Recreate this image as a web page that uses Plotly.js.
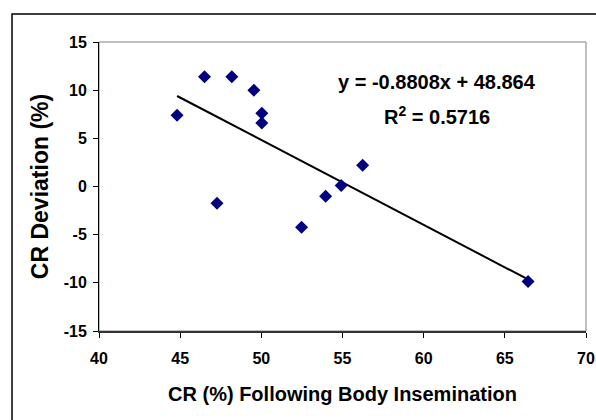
<!DOCTYPE html>
<html>
<head>
<meta charset="utf-8">
<script src="https://cdn.plot.ly/plotly-3.0.1.min.js"></script>
<style>
html,body{margin:0;padding:0;background:#fff;}
#chart{width:596px;height:420px;}
</style>
</head>
<body>
<div id="chart"></div>
<script>
var crBody = [44.81, 46.50, 48.18, 49.54, 50.03, 50.03, 47.27, 52.48, 53.96, 54.92, 56.24, 66.43];
var crDeviation = [7.39, 11.39, 11.39, 10.0, 7.6, 6.6, -1.73, -4.24, -1.0, 0.1, 2.2, -9.85];
var slope = -0.8808;
var intercept = 48.864;
var xTicks = [40, 45, 50, 55, 60, 65, 70];
var yTicks = [-15, -10, -5, 0, 5, 10, 15];

var xMin = Math.min.apply(null, crBody);
var xMax = Math.max.apply(null, crBody);
var trendX = [xMin, xMax];
var trendY = trendX.map(function(v){ return slope * v + intercept; });

var fam = 'Liberation Sans, Arial, sans-serif';

var data = [
  {
    x: trendX, y: trendY, type: 'scatter', mode: 'lines',
    line: {color: '#000', width: 2}, hoverinfo: 'skip', showlegend: false
  },
  {
    x: crBody, y: crDeviation, type: 'scatter', mode: 'markers',
    marker: {symbol: 'diamond', size: 10, color: '#000080', line: {width: 0}},
    showlegend: false
  }
];

function boldTicks(arr){ return arr.map(function(v){ return '<b>' + v + '</b>'; }); }

var layout = {
  width: 596, height: 420,
  margin: {l: 99, r: 10, t: 42, b: 89},
  paper_bgcolor: '#fff', plot_bgcolor: '#fff',
  font: {family: fam, color: '#000'},
  xaxis: {
    range: [40, 70], tickmode: 'array', tickvals: xTicks, ticktext: boldTicks(xTicks),
    showgrid: false, zeroline: false, showline: true, linecolor: '#333', linewidth: 1.5,
    ticks: 'outside', ticklen: 5, tickcolor: '#000', tickwidth: 1, ticklabelstandoff: 7,
    tickfont: {family: fam, size: 16, color: '#000', weight: 700},
    title: {text: '<b>CR (%) Following Body Insemination</b>', font: {family: fam, size: 20, color: '#000'}, standoff: 21}
  },
  yaxis: {
    range: [-15, 15], tickmode: 'array', tickvals: yTicks, ticktext: boldTicks(yTicks),
    showgrid: false, zeroline: false, showline: true, linecolor: '#000', linewidth: 1,
    ticks: 'outside', ticklen: 5, tickcolor: '#000', tickwidth: 1, ticklabelstandoff: 3,
    tickfont: {family: fam, size: 16, color: '#000', weight: 700},
    title: {text: '<b>CR Deviation (%)</b>', font: {family: fam, size: 23, color: '#000'}, standoff: 8}
  },
  shapes: [
    {type: 'rect', xref: 'paper', yref: 'paper', x0: 0, x1: 1, y0: 0, y1: 1,
     line: {color: '#808080', width: 1}, layer: 'below'},
    {type: 'rect', xref: 'paper', yref: 'paper', x0: -0.1786, x1: 1.2, y0: -0.5, y1: 1.0969,
     line: {color: '#000', width: 1.5}}
  ],
  annotations: [
    {xref: 'paper', yref: 'paper', x: 0.695, y: 0.862, xanchor: 'center', yanchor: 'middle',
     text: '<b>y = -0.8808x + 48.864</b>', showarrow: false,
     font: {family: fam, size: 20, color: '#000'}},
    {xref: 'paper', yref: 'paper', x: 0.695, y: 0.747, xanchor: 'center', yanchor: 'middle',
     text: '<b>R<sup>2</sup> = 0.5716</b>', showarrow: false,
     font: {family: fam, size: 20, color: '#000'}}
  ]
};

Plotly.newPlot('chart', data, layout, {displayModeBar: false, staticPlot: true});
</script>
</body>
</html>
